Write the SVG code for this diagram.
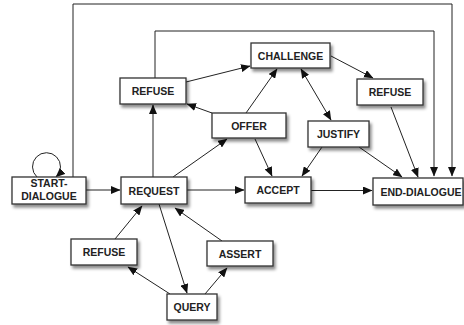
<svg xmlns="http://www.w3.org/2000/svg" width="464" height="325" viewBox="0 0 464 325">
<defs>
<marker id="ah" markerWidth="10" markerHeight="8" refX="9" refY="4" orient="auto-start-reverse" markerUnits="userSpaceOnUse">
<path d="M0,0 L9.5,4 L0,8 z" fill="#111"/>
</marker>
<filter id="sh" x="-20%" y="-30%" width="150%" height="180%">
<feDropShadow dx="2" dy="3" stdDeviation="1.8" flood-color="#000" flood-opacity="0.45"/>
</filter>
<style>
.n rect{fill:#fff;stroke:#333;stroke-width:1.3;filter:url(#sh)}
.n text{font-family:"Liberation Sans",Arial,sans-serif;font-weight:bold;font-size:10.5px;fill:#222;text-anchor:middle}
.c path{fill:none;stroke:#222;stroke-width:1}
.c .a{marker-end:url(#ah)}
</style>
</defs>
<rect width="464" height="325" fill="#fff"/>
<g class="c" id="connectors">
<path class="a" d="M73,177 V4 H452 V176"/>
<path class="a" d="M155,78 V31 H434 V176"/>
<path class="a" d="M37,177 A14,14 0 1 1 56,177"/>
<path class="a" d="M86,190 H120"/>
<path class="a" d="M153,177 V105"/>
<path class="a" d="M186,82 L250,66"/>
<path class="a" d="M212,113 L187,104"/>
<path class="a" d="M246,113 L277,69"/>
<path class="a" d="M173,177 L227,139"/>
<path class="a" d="M255,139 L272,176"/>
<path class="a" d="M322,147 L302,176"/>
<path class="a" d="M359,147 L402,177"/>
<path class="a" d="M391,107 L418,177"/>
<path class="a" style="marker-start:url(#ah)" d="M301,69 L331,120"/>
<path class="a" d="M331,56 L373,78"/>
<path class="a" d="M187,190 H244"/>
<path class="a" d="M311,190.5 H372"/>
<path class="a" d="M159,204 L187,293"/>
<path class="a" d="M222,241 L175,208"/>
<path class="a" d="M115,239 L142,206"/>
<path class="a" d="M170,294 L128,267"/>
<path class="a" d="M205,294 L227,268"/>
</g>
<g class="n" id="refuse1"><rect x="120" y="78" width="66" height="26"/><text x="153" y="95">REFUSE</text></g>
<g class="n" id="challenge"><rect x="251" y="43" width="79" height="25"/><text x="290.5" y="59.5">CHALLENGE</text></g>
<g class="n" id="refuse2"><rect x="357" y="79" width="66" height="26"/><text x="390" y="96">REFUSE</text></g>
<g class="n" id="offer"><rect x="212" y="113" width="74" height="25"/><text x="249" y="129.5">OFFER</text></g>
<g class="n" id="justify"><rect x="308" y="121" width="61" height="26"/><text x="338.5" y="138">JUSTIFY</text></g>
<g class="n" id="start"><rect x="12" y="177" width="74" height="27"/><text x="49" y="187">START-</text><text x="49" y="199.5">DIALOGUE</text></g>
<g class="n" id="request"><rect x="121" y="177" width="66" height="27"/><text x="154" y="194.5">REQUEST</text></g>
<g class="n" id="accept"><rect x="245" y="177" width="66" height="26"/><text x="278" y="194">ACCEPT</text></g>
<g class="n" id="end"><rect x="373" y="178" width="90" height="27"/><text x="421" y="195.5">END-DIALOGUE</text></g>
<g class="n" id="refuse3"><rect x="71" y="239" width="66" height="26"/><text x="104" y="256">REFUSE</text></g>
<g class="n" id="assert"><rect x="207" y="241" width="66" height="25"/><text x="240" y="257.5">ASSERT</text></g>
<g class="n" id="query"><rect x="167" y="294" width="50" height="26"/><text x="192" y="311">QUERY</text></g>
</svg>
